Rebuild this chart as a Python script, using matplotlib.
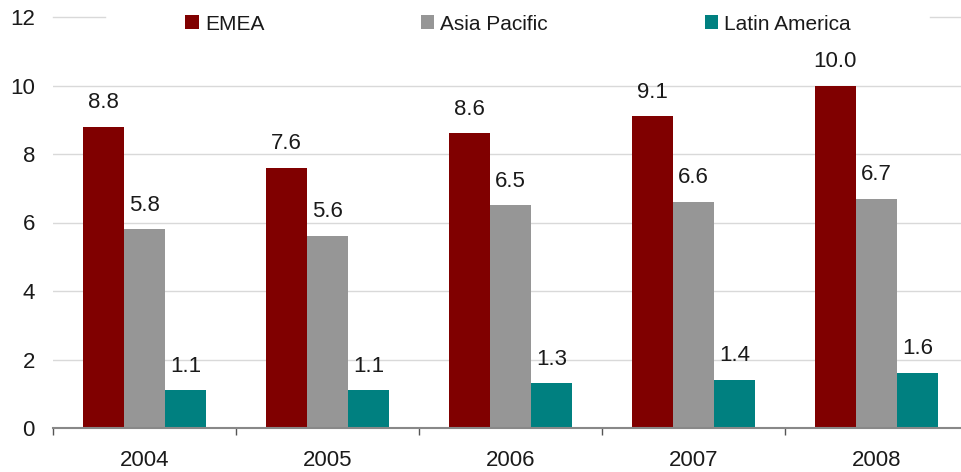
import matplotlib.pyplot as plt
import numpy as np

years = ["2004", "2005", "2006", "2007", "2008"]
emea = [8.8, 7.6, 8.6, 9.1, 10.0]
asia_pacific = [5.8, 5.6, 6.5, 6.6, 6.7]
latin_america = [1.1, 1.1, 1.3, 1.4, 1.6]

series = [
    ("EMEA", emea, "#800000"),
    ("Asia Pacific", asia_pacific, "#969696"),
    ("Latin America", latin_america, "#008080"),
]

plt.rcParams["font.family"] = ["Liberation Sans", "DejaVu Sans"]
plt.rcParams["font.size"] = 16
text_color = "#1a1a1a"

fig = plt.figure(figsize=(9.61, 4.72), dpi=100)
ax = fig.add_axes([53 / 961, 44 / 472, 915 / 961, 411 / 472])

x = np.arange(len(years))
width = 0.225
for i, (name, vals, color) in enumerate(series):
    pos = x + (i - 1) * width
    bars = ax.bar(pos, vals, width, color=color, label=name, zorder=3)
    for b, v in zip(bars, vals):
        ax.annotate(f"{v:.1f}", (b.get_x() + b.get_width() / 2, v),
                    xytext=(0, 13.5), textcoords="offset points",
                    ha="center", va="baseline", color=text_color)

ax.set_xlim(-0.5, len(years) - 0.5)
ax.set_ylim(0, 12)
ax.set_yticks(np.arange(0, 13, 2))
ax.tick_params(axis="y", length=0, pad=13, labelcolor=text_color)

# ticks at category boundaries, labels at centres
ax.set_xticks(np.arange(len(years) + 1) - 0.5)
ax.set_xticklabels([])
ax.set_xticks(x, minor=True)
ax.set_xticklabels(years, minor=True)
ax.tick_params(axis="x", which="major", length=5, width=1, color="#555555", direction="out")
ax.tick_params(axis="x", which="minor", length=0, pad=16, labelcolor=text_color)

for s in ["left", "right", "top"]:
    ax.spines[s].set_visible(False)
ax.spines["bottom"].set_color("#888888")
ax.spines["bottom"].set_linewidth(1.5)
ax.spines["bottom"].set_zorder(4)

ax.yaxis.grid(True, color="#d9d9d9", linewidth=1, zorder=0)
ax.get_ygridlines()[-1].set_visible(False)
# top gridline is interrupted by the legend
ax.axhline(12, xmin=0, xmax=52 / 915, color="#d9d9d9", linewidth=1, zorder=0, clip_on=False)
ax.axhline(12, xmin=877 / 915, xmax=1, color="#d9d9d9", linewidth=1, zorder=0, clip_on=False)

ax.legend(loc="center", bbox_to_anchor=(132 / 915, 404 / 411, 666 / 915, 0),
          mode="expand", ncol=3, frameon=False, borderpad=0, borderaxespad=0,
          fontsize=15, handlelength=0.65, handleheight=0.65, handletextpad=0.3,
          labelcolor=text_color)

fig.savefig("out.png", dpi=100)
